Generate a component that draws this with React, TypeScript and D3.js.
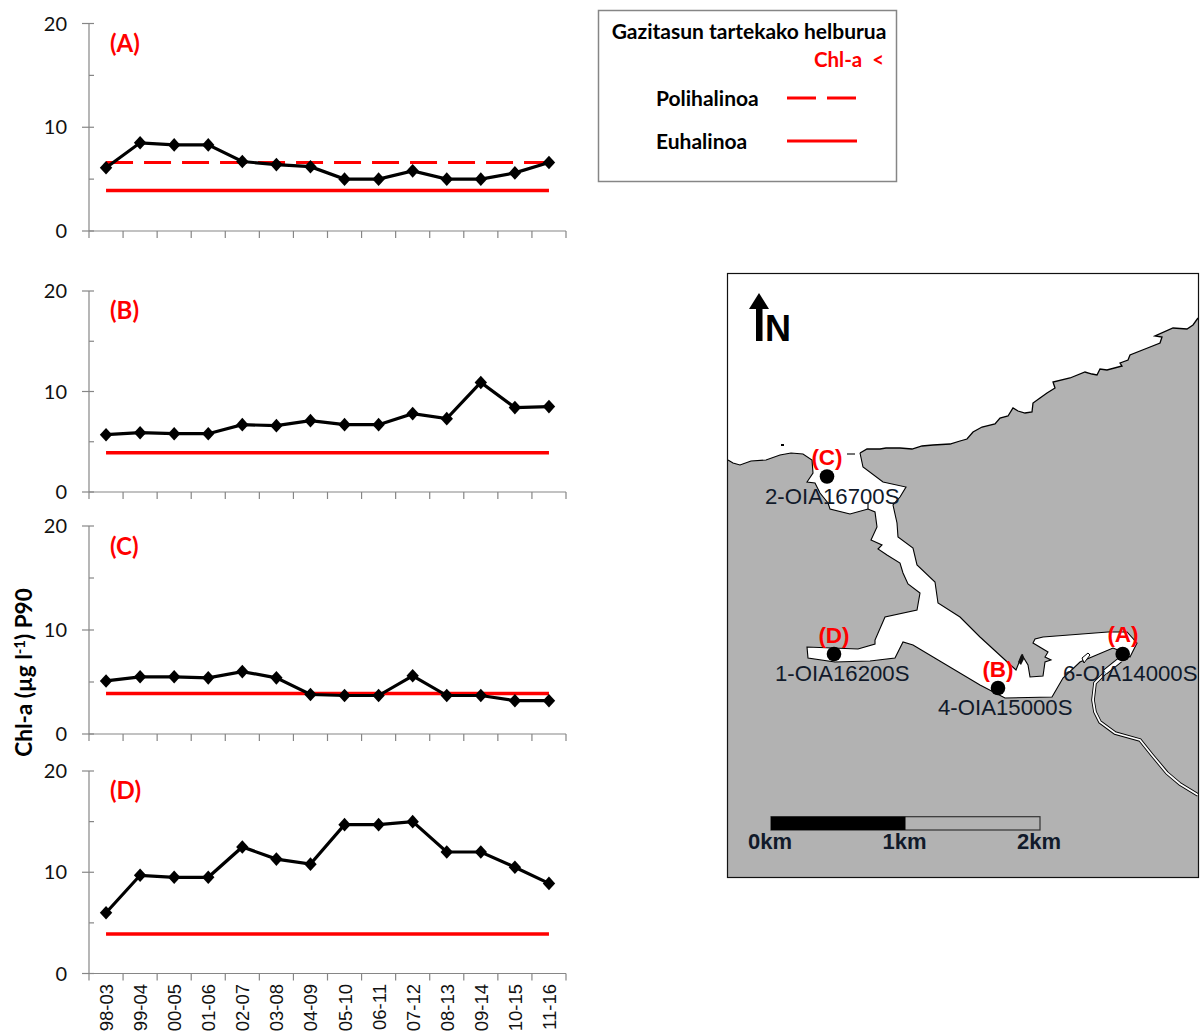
import React from "react";
import * as d3 from "d3";

const periods = ["98-03","99-04","00-05","01-06","02-07","03-08","04-09","05-10","06-11","07-12","08-13","09-14","10-15","11-16"];
const valuesA = [6.1,8.5,8.3,8.3,6.7,6.4,6.2,5.0,5.0,5.8,5.0,5.0,5.6,6.6];
const valuesB = [5.7,5.9,5.8,5.8,6.7,6.6,7.1,6.7,6.7,7.8,7.3,10.9,8.4,8.5];
const valuesC = [5.1,5.5,5.5,5.4,6.0,5.4,3.8,3.7,3.7,5.6,3.7,3.7,3.2,3.2];
const valuesD = [6.0,9.7,9.5,9.5,12.5,11.3,10.8,14.7,14.7,15.0,12.0,12.0,10.5,8.9];
const euhalineTarget = 3.9;
const polyhalineTarget = 6.6;
const majorTicks = [0,10,20];
const minorTicks = [5,15];

type P = [number, number];
const openCoast: P[] = [[860,453],[867,449],[880,449],[886,448],[900,448],[912,449],[922,446],[933,445],[950,444],[960,441],[967,439],[973,432],[982,427],[995,424],[1000,418],[1008,416],[1013,408],[1018,411],[1025,413],[1032,412],[1033,403],[1040,398],[1047,393],[1055,388],[1053,382],[1070,378],[1085,372],[1092,374],[1097,375],[1100,369],[1107,370],[1122,366],[1120,363],[1128,360],[1130,355],[1145,349],[1160,343],[1162,337],[1155,336],[1173,328],[1187,329],[1193,325],[1198,318]];
const westShore: P[] = [[728,460],[733,463],[740,465],[751,461],[766,460],[780,455],[791,453],[803,454],[812,460],[813,473],[807,482],[815,483],[820,493],[828,503],[830,509],[850,514],[868,509],[875,512],[877,527],[871,540],[882,545],[878,549],[887,555],[900,563],[903,573],[908,584],[920,593],[917,610],[885,617],[875,640],[875,644],[858,649],[807,647],[808,658],[835,662],[870,661],[895,658],[903,642],[913,645],[980,685],[1005,698],[1052,697],[1063,678],[1080,662],[1113,648],[1118,650]];
const eastShore: P[] = [[1130,657],[1137,643],[1127,632],[1108,632],[1043,637],[1035,639],[1033,643],[1048,652],[1045,657],[1051,660],[1045,662],[1043,676],[1030,677],[1028,665],[1022,655],[1020,660],[1016,670],[980,637],[960,617],[938,603],[935,582],[917,565],[913,548],[898,537],[897,523],[893,505],[900,497],[906,487],[883,482],[863,467],[860,453]];
const frameTop: P[] = [[1198,274],[728,274]];
const river: P[] = [[1115,663],[1095,683],[1093,700],[1095,712],[1100,722],[1115,733],[1140,740],[1152,755],[1167,773],[1180,784],[1198,795]];
const riverHead: P[] = [[1120,660],[1105,672]];
const jetty: P[] = [[1082,658],[1088,653],[1090,655],[1084,663]];
const mouthStub: P[] = [[847,454],[855,454]];
const bayStub: P[] = [[868,503],[868,509]];
const stationNames = ["2-OIA16700S","1-OIA16200S","4-OIA15000S","6-OIA14000S"];
const stationCodes = ["(C)","(D)","(B)","(A)"];
const stationDots: P[] = [[827,476.5],[834,654],[998,688],[1122.7,654]];
const stationCodeAt: P[] = [[827,465],[834,643],[998,677],[1123,642]];
const stationNameAt: P[] = [[765,504],[775,681],[938,715],[1063,681]];
const scaleLabels = ["0km","1km","2km"];
const scaleKm = [0,1,2];

const sans = "'Liberation Sans', Arial, sans-serif";
const lato = "Lato, sans-serif";
const RED = "#ff0000";
const AXIS = "#868686";

const xScale = d3.scaleBand<string>().domain(periods).range([89,566]);
const mapX = d3.scaleLinear().domain([727,1198]).range([727,1198]);
const mapY = d3.scaleLinear().domain([273,878]).range([273,878]);
const mapLine = d3.line<P>().x(d => mapX(d[0])).y(d => mapY(d[1]));
const kmScale = d3.scaleLinear().domain([0,2]).range([771,1040]);

function Panel({ values, label, top, bottom, labelY, poly, target }: { values: number[]; label: string; top: number; bottom: number; labelY: number; poly?: boolean; target: number }) {
  const y = d3.scaleLinear().domain([0,20]).range([bottom, top]);
  const cx = (p: string) => xScale(p)! + xScale.bandwidth() / 2;
  const line = d3.line<number>().x((_, i) => cx(periods[i])).y(v => y(v));
  const first = cx(periods[0]), last = cx(periods[periods.length - 1]);
  return (
    <g>
      <line x1={89} x2={89} y1={top} y2={bottom} stroke={AXIS} strokeWidth={1.2} />
      <line x1={89} x2={566} y1={bottom} y2={bottom} stroke={AXIS} strokeWidth={1.2} />
      {majorTicks.map(t => (
        <g key={t}>
          <line x1={82} x2={94} y1={y(t)} y2={y(t)} stroke={AXIS} strokeWidth={1.2} />
          <text x={67} y={y(t) + 7} textAnchor="end" fontFamily={lato} fontSize={20} fill="#111">{t}</text>
        </g>
      ))}
      {minorTicks.map(t => <line key={t} x1={89} x2={94} y1={y(t)} y2={y(t)} stroke={AXIS} strokeWidth={1.2} />)}
      {[...periods.map(p => xScale(p)!), 566].map((x, i) => (
        <line key={i} x1={x} x2={x} y1={bottom} y2={bottom + 7} stroke={AXIS} strokeWidth={1.2} />
      ))}
      <line x1={first} x2={last} y1={y(target)} y2={y(target)} stroke={RED} strokeWidth={3.4} />
      {poly && <line x1={first} x2={last} y1={y(polyhalineTarget)} y2={y(polyhalineTarget)} stroke={RED} strokeWidth={3} strokeDasharray="27 11" />}
      <path d={line(values) ?? ""} fill="none" stroke="#000" strokeWidth={3.2} />
      {values.map((v, i) => {
        const px = cx(periods[i]), py = y(v);
        return <path key={i} d={`M${px},${py - 6.8}L${px + 6.2},${py}L${px},${py + 6.8}L${px - 6.2},${py}Z`} fill="#000" />;
      })}
      <text x={110} y={labelY + 8} fontFamily={lato} fontWeight={700} fontSize={24} fill={RED}>{label}</text>
    </g>
  );
}

function MapPanel() {
  const water = [...westShore, ...eastShore, ...openCoast, ...frameTop];
  return (
    <g>
      <rect x={727.5} y={273.5} width={471} height={604} fill="#b2b2b2" stroke="none" />
      <path d={(mapLine(water) ?? "") + "Z"} fill="#fff" stroke="none" />
      <path d={mapLine(openCoast) ?? ""} fill="none" stroke="#000" strokeWidth={1.3} />
      <path d={mapLine([...westShore, ...eastShore]) ?? ""} fill="none" stroke="#000" strokeWidth={1.1} />
      <path d={mapLine(mouthStub) ?? ""} fill="none" stroke="#000" strokeWidth={1.1} />
      <path d={mapLine(bayStub) ?? ""} fill="none" stroke="#000" strokeWidth={1.1} />
      <path d={mapLine(river) ?? ""} fill="none" stroke="#000" strokeWidth={3.6} />
      <path d={mapLine(river) ?? ""} fill="none" stroke="#fff" strokeWidth={1.8} />
      <path d={mapLine(riverHead) ?? ""} fill="none" stroke="#000" strokeWidth={6} />
      <path d={mapLine(riverHead) ?? ""} fill="none" stroke="#fff" strokeWidth={4} />
      <path d={(mapLine(jetty) ?? "") + "Z"} fill="#fff" stroke="#000" strokeWidth={1} />
      <rect x={781} y={444} width={3} height={2} fill="#000" />
      <path d="M1018,662L1021,655L1023,654L1024,659L1021,665Z" fill="#111" />
      <rect x={727.5} y={273.5} width={471} height={604} fill="none" stroke="#111" strokeWidth={1.2} />

      <path d="M749,309L759,293L769,309L762.5,309L762.5,341L756,341L756,309Z" fill="#000" />
      <text x={765} y={341} fontFamily={sans} fontWeight={700} fontSize={36} fill="#000">N</text>

      {stationNames.map((n, i) => (
        <text key={n} x={mapX(stationNameAt[i][0])} y={mapY(stationNameAt[i][1])} fontFamily={sans} fontSize={22.2} fill="#111a2a">{n}</text>
      ))}
      {stationDots.map((d, i) => <circle key={i} cx={mapX(d[0])} cy={mapY(d[1])} r={7.3} fill="#000" />)}
      {stationCodes.map((c, i) => (
        <text key={c} x={mapX(stationCodeAt[i][0])} y={mapY(stationCodeAt[i][1])} textAnchor="middle" fontFamily={sans} fontWeight={700} fontSize={22.5} fill={RED}>{c}</text>
      ))}

      <rect x={kmScale(0)} y={816.7} width={kmScale(2) - kmScale(0)} height={13.3} fill="none" stroke="#333" strokeWidth={1.2} />
      <rect x={kmScale(0)} y={816.7} width={kmScale(1) - kmScale(0)} height={13.3} fill="#000" />
      {scaleKm.map((k, i) => (
        <text key={k} x={kmScale(k) - 1} y={849} textAnchor="middle" fontFamily={sans} fontWeight={700} fontSize={22} fill="#111a2a">{scaleLabels[i]}</text>
      ))}
    </g>
  );
}

export default function App() {
  return (
    <svg width={1200} height={1032} viewBox="0 0 1200 1032" style={{ position: "absolute", left: 0, top: 0, background: "#fff" }}>
      <Panel values={valuesA} label="(A)" top={23.5} bottom={231} labelY={44} poly target={euhalineTarget} />
      <Panel values={valuesB} label="(B)" top={291} bottom={492} labelY={311} target={euhalineTarget} />
      <Panel values={valuesC} label="(C)" top={526} bottom={734} labelY={547} target={euhalineTarget} />
      <Panel values={valuesD} label="(D)" top={771} bottom={973.5} labelY={791} target={euhalineTarget} />

      {periods.map(p => {
        const x = xScale(p)! + xScale.bandwidth() / 2;
        return (
          <text key={p} transform={`translate(${x + 7},984) rotate(-90)`} textAnchor="end" fontFamily={sans} fontSize={18.5} fill="#111">{p}</text>
        );
      })}

      <text transform="translate(32,672.5) rotate(-90)" textAnchor="middle" fontFamily={lato} fontWeight={700} fontSize={22.5} fill="#000">
        Chl-a (µg l<tspan dy={-7} fontSize={15}>-1</tspan><tspan dy={7}>) P90</tspan>
      </text>

      <rect x={598.5} y={10.5} width={298} height={171} fill="#fff" stroke={AXIS} strokeWidth={1.5} />
      <text x={749} y={39} textAnchor="middle" fontFamily={lato} fontWeight={700} fontSize={21} fill="#000">Gazitasun tartekako helburua</text>
      <text x={814} y={67} fontFamily={lato} fontWeight={700} fontSize={20.5} fill={RED} xmlSpace="preserve">Chl-a  &lt;</text>
      <text x={656} y={105.5} fontFamily={lato} fontWeight={700} fontSize={21} fill="#000">Polihalinoa</text>
      <text x={656} y={148.5} fontFamily={lato} fontWeight={700} fontSize={21} fill="#000">Euhalinoa</text>
      <line x1={787} x2={857} y1={98} y2={98} stroke={RED} strokeWidth={3.2} strokeDasharray="29 11" />
      <line x1={787} x2={857} y1={141} y2={141} stroke={RED} strokeWidth={3.2} />

      <MapPanel />
    </svg>
  );
}
